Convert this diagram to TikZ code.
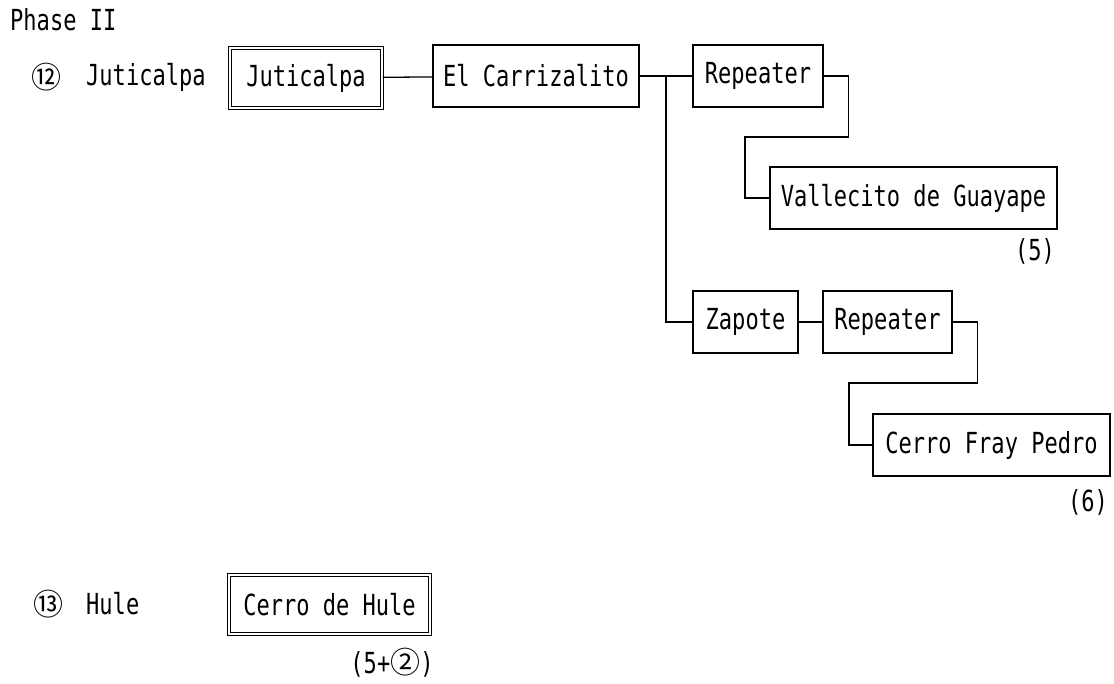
\documentclass[tikz,border=0pt]{standalone}
\usepackage{fontspec}
\setmainfont[FakeStretch=0.76]{DejaVu Sans Mono}
\newfontfamily\cjk{Noto Sans CJK JP}
\usetikzlibrary{calc}

\tikzset{
  box/.style={draw, line width=1.3pt, minimum height=62pt, inner sep=0pt},
  dbox/.style={box, double, double distance=2.5pt, line width=1pt},
  link/.style={line width=1.3pt},
  txt/.style={inner sep=0pt}
}
\newcommand{\circnum}[1]{{\cjk\fontsize{30}{32}\selectfont #1}}

\begin{document}
\begin{tikzpicture}[x=1pt, y=-1pt, every node/.style={font=\fontsize{29}{32}\selectfont}]
                \useasboundingbox (0,0) rectangle (1114,683);
                \node[txt, anchor=west] (title) at (10,20) {Phase II};

                % Juticalpa row
                \node[txt] (n12) at (46,77) {\circnum{⑫}};
                \node[txt, anchor=west] (lab12) at (86,77) {Juticalpa};
                \node[dbox, minimum width=152pt, minimum height=60pt] (jut) at (306,78) {Juticalpa};
                \node[box, minimum width=206pt] (carr) at (536,76) {El Carrizalito};
                \node[box, minimum width=130pt] (rep1) at (758,76) {Repeater};
                \node[box, minimum width=287pt] (valle) at (913.5,198) {Vallecito de Guayape};
                \node[txt, anchor=east] (v5) at (1055,251) {(5)};
                \node[box, minimum width=105pt] (zap) at (745.5,322) {Zapote};
                \node[box, minimum width=129pt] (rep2) at (887.5,322) {Repeater};
                \node[box, minimum width=237pt] (fray) at (991.5,445) {Cerro Fray Pedro};
                \node[txt, anchor=east] (v6) at (1108,502) {(6)};

                % bends
                \coordinate (split) at ($(carr.east)!0.5!(rep1.west)$);
                \coordinate (bend1) at (745,137);
                \coordinate (bend2) at (849,383);

                \draw[link] (jut) -- (carr);
                \draw[link] (carr) -- (rep1);
                \draw[link] (split) |- (zap.west);
                \draw[link] (zap) -- (rep2);
                \draw[link] (rep1.east) -- ++(25,0) |- (bend1) |- (valle.west);
                \draw[link] (rep2.east) -- ++(25,0) |- (bend2) |- (fray.west);

                % Hule row
                \node[txt] (n13) at (49,604) {\circnum{⑬}};
                \node[txt, anchor=west] (lab13) at (86,604) {Hule};
                \node[dbox, minimum width=201pt, minimum height=59pt] (hule) at (329.5,604.5) {Cerro de Hule};
                \node[txt] (v52) at (392,663) {(5+\circnum{②})};
              \end{tikzpicture}
\end{document}
